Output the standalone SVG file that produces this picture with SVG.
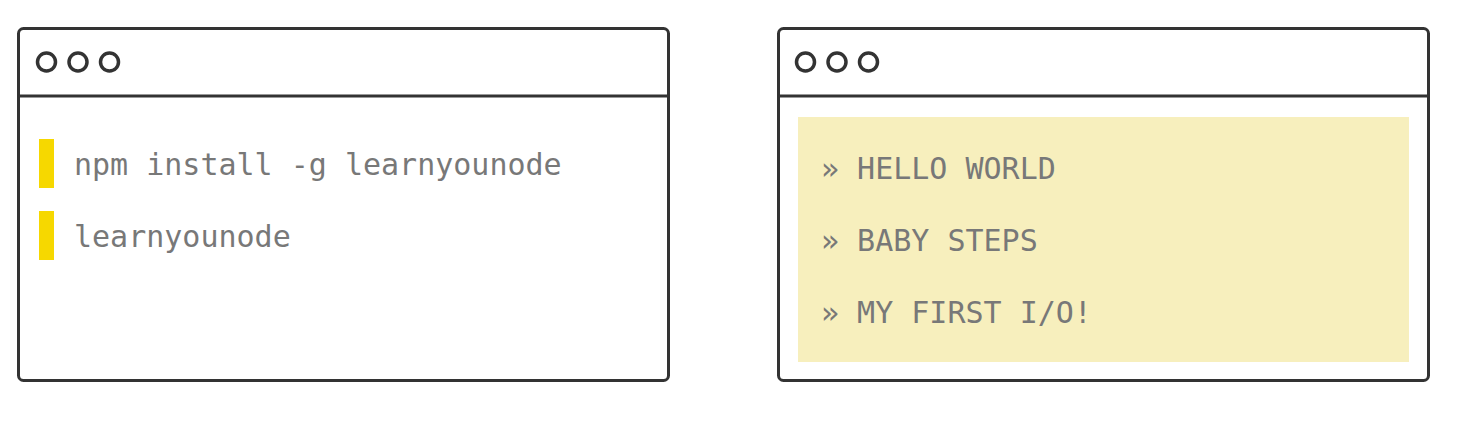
<svg xmlns="http://www.w3.org/2000/svg" width="1468" height="426" viewBox="0 0 1468 426">
<style>
.win{fill:#fff;stroke:#333;stroke-width:3}
.bar{stroke:#333;stroke-width:3;fill:none}
.dot{fill:none;stroke:#333;stroke-width:3.5}
.cmd{fill:#787878;font-family:"DejaVu Sans Mono","Liberation Mono",monospace;font-size:30px}
.mark{fill:#f6d800}
.panel{fill:#f7efbd}
</style>
<rect width="1468" height="426" fill="#fff"/>
<g id="terminal">
<rect class="win" x="18.5" y="28.5" width="650" height="352" rx="5"/>
<line class="bar" x1="18.5" y1="96" x2="668.5" y2="96"/>
<circle class="dot" cx="46.5" cy="62" r="9"/>
<circle class="dot" cx="78" cy="62" r="9"/>
<circle class="dot" cx="109.5" cy="62" r="9"/>
<rect class="mark" x="39" y="139" width="15" height="49"/>
<rect class="mark" x="39" y="211" width="15" height="49"/>
<text class="cmd" x="74" y="175">npm install -g learnyounode</text>
<text class="cmd" x="74" y="247">learnyounode</text>
</g>
<g id="menu">
<rect class="win" x="778.5" y="28.5" width="650" height="352" rx="5"/>
<line class="bar" x1="778.5" y1="96" x2="1428.5" y2="96"/>
<circle class="dot" cx="805.5" cy="62" r="9"/>
<circle class="dot" cx="837" cy="62" r="9"/>
<circle class="dot" cx="868.5" cy="62" r="9"/>
<rect class="panel" x="798" y="117" width="611" height="245"/>
<text class="cmd" x="821" y="179">» HELLO WORLD</text>
<text class="cmd" x="821" y="251">» BABY STEPS</text>
<text class="cmd" x="821" y="323">» MY FIRST I/O!</text>
</g>
<g id="connectors"></g>
</svg>
